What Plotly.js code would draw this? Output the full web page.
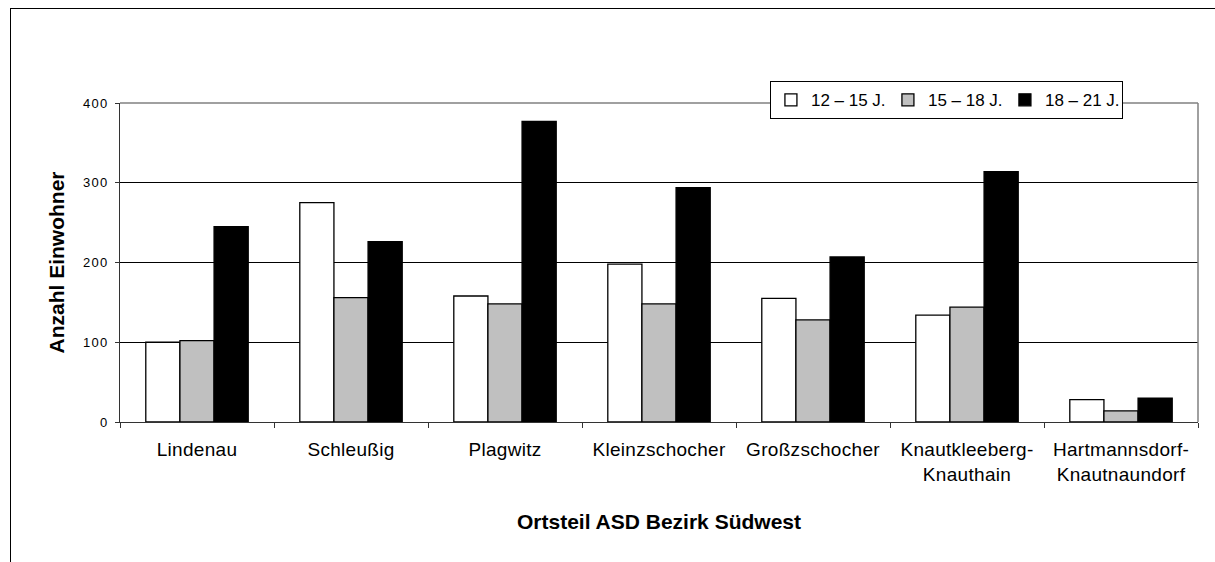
<!DOCTYPE html>
<html>
<head>
<meta charset="utf-8">
<script src="https://cdn.plot.ly/plotly-3.0.1.min.js"></script>
<style>
  html, body { margin: 0; padding: 0; background: #fff; }
  #chart { position: absolute; left: 0; top: 0; width: 1215px; height: 562px; }
  #frame { position: absolute; left: 10px; top: 8px; width: 1300px; height: 600px;
           border-left: 1px solid #000; border-top: 1px solid #000; pointer-events: none; }
  #chart .ytick text { letter-spacing: 1.2px; }
  #chart .xtick text { letter-spacing: 0.3px; }
</style>
</head>
<body>
<div id="chart"></div>
<div id="frame"></div>
<script>
const categories = [
  "Lindenau",
  "Schleußig",
  "Plagwitz",
  "Kleinzschocher",
  "Großzschocher",
  "Knautkleeberg-<br>Knauthain",
  "Hartmannsdorf-<br>Knautnaundorf"
];
const seriesNames = ["12 – 15 J.", "15 – 18 J.", "18 – 21 J."];
const age12to15 = [100, 275, 158, 198, 155, 134, 28];
const age15to18 = [102, 156, 148, 148, 128, 144, 14];
const age18to21 = [245, 226, 377, 294, 207, 314, 30];
const yTickValues = [0, 100, 200, 300, 400];

const fills = ["#FFFFFF", "#C0C0C0", "#000000"];
const seriesValues = [age12to15, age15to18, age18to21];

const font = "Liberation Sans, Arial, sans-serif";

const traces = seriesValues.map((vals, i) => ({
  type: "bar",
  name: seriesNames[i],
  x: categories,
  y: vals,
  marker: { color: fills[i], line: { color: "#000000", width: 1.3 } },
  hoverinfo: "x+y+name"
}));

const layout = {
  width: 1215,
  height: 562,
  margin: { l: 120, r: 17, t: 103, b: 140, pad: 0 },
  paper_bgcolor: "#FFFFFF",
  plot_bgcolor: "#FFFFFF",
  font: { family: font, color: "#000000" },
  barmode: "group",
  bargap: 0.335,
  bargroupgap: 0,
  showlegend: true,
  legend: {
    orientation: "h",
    x: 0.6029,
    y: 1.068,
    xanchor: "left",
    yanchor: "top",
    bgcolor: "#FFFFFF",
    bordercolor: "#000000",
    borderwidth: 1,
    font: { family: font, size: 17, color: "#000000" },
    itemwidth: 30,
    traceorder: "normal",
    entrywidth: 72,
    entrywidthmode: "pixels"
  },
  xaxis: {
    type: "category",
    showline: true,
    linecolor: "#333333",
    linewidth: 1,
    showgrid: false,
    zeroline: false,
    ticks: "outside",
    tickson: "boundaries",
    ticklen: 5,
    tickcolor: "#333333",
    tickwidth: 1,
    ticklabelstandoff: 10,
    tickfont: { family: font, size: 19, color: "#000000" },
    title: {
      text: "Ortsteil ASD Bezirk Südwest",
      font: { family: font, size: 21, color: "#000000", weight: "bold" },
      standoff: 30
    },
    fixedrange: true
  },
  yaxis: {
    range: [0, 400],
    tickvals: yTickValues,
    showline: true,
    linecolor: "#333333",
    linewidth: 1,
    showgrid: true,
    gridcolor: "#000000",
    gridwidth: 1,
    zeroline: false,
    ticks: "outside",
    ticklen: 4,
    tickcolor: "#333333",
    tickwidth: 1,
    ticklabelstandoff: 4,
    tickfont: { family: font, size: 13, color: "#000000" },
    title: {
      text: "Anzahl Einwohner",
      font: { family: font, size: 21, color: "#000000", weight: "bold" },
      standoff: 16
    },
    fixedrange: true
  },
  shapes: [
    { type: "line", xref: "paper", yref: "paper", x0: 0, x1: 1, y0: 1, y1: 1,
      line: { color: "#808080", width: 1.5 }, layer: "above" },
    { type: "line", xref: "paper", yref: "paper", x0: 1, x1: 1, y0: 0, y1: 1,
      line: { color: "#808080", width: 1.5 }, layer: "above" }
  ]
};

Plotly.newPlot("chart", traces, layout, { displayModeBar: false, staticPlot: true });
</script>
</body>
</html>
